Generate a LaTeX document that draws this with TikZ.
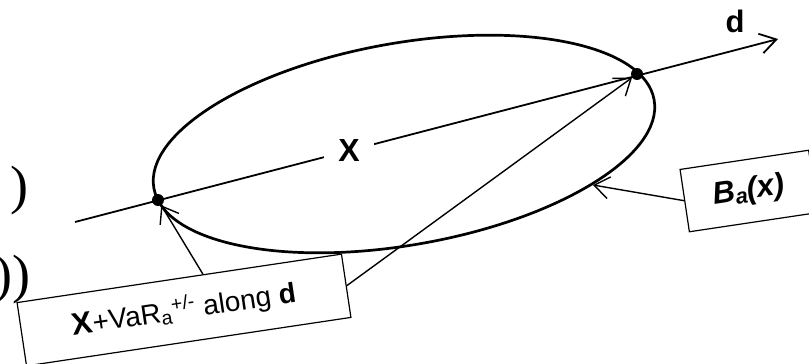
\documentclass[tikz,border=0pt]{standalone}
\usepackage{fontspec}
\setmainfont{Liberation Sans}
\newfontfamily\parfont{Liberation Serif}
\usetikzlibrary{arrows.meta,calc}
\begin{document}
\begin{tikzpicture}[x=1pt,y=-1pt,
  lbl/.style={inner sep=0pt, font=\fontsize{32}{36}\selectfont\bfseries},
  boxed/.style={draw, line width=1.2pt, rotate=8.5, minimum height=63pt, inner sep=0pt},
  dot/.style={circle, fill, inner sep=0pt, minimum size=12pt},
  pointer/.style={line width=1.4pt, -{Straight Barb[length=15pt,width=22pt]}},
  paren/.style={anchor=base west, inner sep=0pt, font=\parfont\fontsize{54}{60}\selectfont},
]
\useasboundingbox (0,0) rectangle (809,364);
\clip (0,0) rectangle (809,364);
% fragments of an equation at the left edge
\node[paren] (pa) at (10,203.5) {)};
\node[paren] (pb) at (-5.5,292.5) {))};
% ellipse B_a(x)
\draw[line width=2.7pt, rotate around={10:(404,144)}] (404,144) ellipse [x radius=254pt, y radius=101pt];
\coordinate (ellpt) at (593,185);
% direction d
\coordinate (d0) at (75,222);
\coordinate (d1) at (778,39);
\draw[line width=1.8pt, -{Straight Barb[length=16pt,width=20pt]}] (d0) -- (d1);
\node[lbl, fill=white, inner xsep=14pt, inner ysep=3pt] (X) at (349,150) {X};
\node[lbl, font=\fontsize{31}{36}\selectfont\bfseries] (dl) at (735,21) {d};
% points
\node[dot] (pL) at (158,200) {};
\node[dot] (pR) at (637,74) {};
% boxes
\node[boxed, minimum width=130pt, font=\fontsize{31}{34}\selectfont\bfseries\itshape] (bbox) at (749,191) {B\textsubscript{a}(x)};
\node[boxed, minimum width=328pt, minimum height=64pt, font=\fontsize{28}{32}\selectfont] (vbox) at (184,310) {\textbf{\fontsize{31}{32}\selectfont X}+VaR\textsubscript{a}\textsuperscript{+/-} along \textbf{d}};
% pointers
\draw[pointer] ($(vbox.north west)!0.573!(vbox.north east)$) -- (pL);
\draw[pointer] (vbox.east) -- (pR);
\draw[pointer] (bbox.west) -- (ellpt);
\end{tikzpicture}
\end{document}
